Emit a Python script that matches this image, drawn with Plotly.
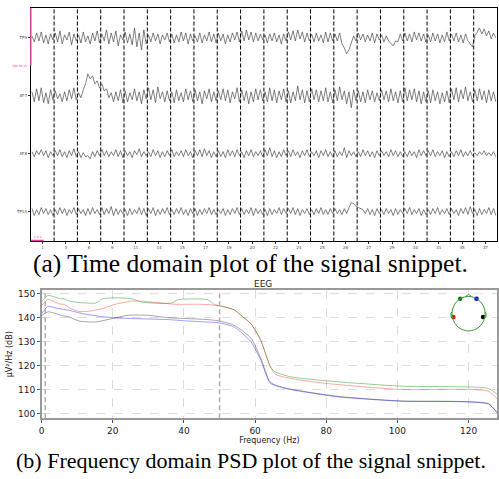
import numpy as np
import plotly.graph_objects as go

# ---------------- data: time-domain panel ----------------
channels = ["TP9", "AF7", "AF8", "TP10"]
epoch_labels = ["1", "3", "6", "9", "11", "14", "15", "17", "19", "20",
                "22", "24", "25", "26", "27", "29", "30", "31", "35", "37"]
samples_per_epoch = 10

tp9 = [2,-4,5,-3,6,-5,3,-6,4,-2, 5,-4,7,-6,3,-2,6,-7,4,-3, 3,-5,6,-4,2,-6,5,-3,7,-5,
       4,-3,8,-6,5,-4,7,-8,3,-2, 6,-5,4,-7,10,-9,5,-12,8,-6, 3,-4,5,-3,4,-6,3,-2,5,-4,
       4,-5,3,-4,6,-3,5,-6,4,-3, 2,-4,5,-5,3,-3,6,-4,4,-5, 5,-3,4,-6,3,-4,5,-2,6,-4,
       7,-3,8,-2,6,-4,5,-3,4,-2, 3,-5,4,-3,5,-4,3,-6,4,-3, 6,-2,7,-3,8,-1,6,-4,5,-3,
       4,-4,5,-3,3,-5,6,-4,5,-3, 4,-3,5,-6,-10,-16,-12,-6,2,-3, 5,-2,4,-4,3,-3,5,-5,4,-2,
       3,-4,2,-3,-5,-8,-3,-4,4,-3, 5,-3,4,-4,6,-2,5,-3,4,-4, 3,-4,5,-3,4,-5,3,-4,6,-3,
       4,-3,5,-4,3,-5,4,-3,-6,-9, 2,6,10,4,9,2,7,-1,5,0]
af7 = [4,-6,7,-5,8,-7,3,-8,6,-4, 5,-3,2,-6,4,-5,6,-3,8,-4, 3,-2,6,12,22,17,20,12,15,8,
       12,5,7,-2,3,-6,4,-5,6,-7, 5,-6,3,-4,7,-5,4,-8,6,-3, 8,-4,6,-7,9,-3,4,-6,5,-5,
       4,-7,6,-5,3,-6,7,-4,5,-6, 6,-5,4,-8,5,-3,7,-6,4,-5, 5,-4,7,-5,6,-7,4,-3,8,-6,
       6,-5,5,-8,4,-6,7,-4,6,-5, 4,-6,8,-5,6,-7,5,-4,7,-6, 5,-7,4,-5,10,-4,6,-7,5,-6,
       7,-4,6,-6,5,-5,8,-6,4,-7, 6,-5,9,-4,5,-8,4,-12,6,-5, 5,-6,4,-7,6,-4,5,-6,3,-5,
       6,-4,5,-6,7,-5,4,-7,5,-6, 8,-5,6,-4,7,-6,5,-8,4,-6, 5,-7,6,-5,4,-8,3,-6,5,-7,
       7,-4,8,-6,6,-3,9,-5,4,-6, 6,-5,7,-4,5,-7,6,-5,4,-6]
af8 = [2,-3,3,-1,4,-2,3,-4,2,-2, 3,-2,4,-3,2,-4,3,-2,5,-3, 2,-4,1,-3,-2,-5,2,-3,3,-2,
       4,-2,3,-3,2,-2,4,-3,3,-4, 3,-2,2,-4,3,-1,5,-3,2,-2, 2,-3,4,-2,3,-4,2,-3,3,-2,
       4,-3,2,-2,3,-3,4,-2,2,-4, 3,-2,4,-3,5,-2,3,-4,2,-3, 3,-3,2,-4,4,-2,3,-3,4,-2,
       2,-4,3,-2,4,-3,2,-2,3,-3, 4,-2,6,-3,3,-4,2,-3,4,-2, 3,-3,4,-2,2,-4,3,-2,4,-3,
       2,-2,3,-4,3,-2,4,-3,2,-3, 3,-3,2,-2,6,-4,3,-2,2,-3, 2,-3,4,-2,3,-3,2,-4,3,-2,
       3,-2,2,-3,4,-2,3,-3,2,-3, 2,-3,3,-2,2,-4,4,-2,3,-2, 3,-2,4,-3,2,-2,3,-4,2,-3,
       2,-3,3,-2,4,-3,2,-2,3,-2, 1,-2,2,-1,3,-2,1,-2,2,-3]
tp10 = [3,-4,2,-3,4,-2,3,-3,2,-4, 2,-3,4,-2,3,-4,2,-2,4,-3, 3,-2,2,-4,3,-3,4,-2,2,-3,
        4,-3,3,-2,5,-4,3,-3,2,-2, 2,-4,3,-3,2,-2,4,-3,3,-4, 3,-2,4,-4,2,-3,3,-2,4,-3,
        2,-3,3,-2,4,-3,2,-4,3,-2, 3,-4,2,-3,3,-2,4,-3,2,-3, 2,-2,3,-4,2,-3,3,-2,4,-3,
        3,-3,2,-2,4,-4,3,-2,2,-3, 2,-4,3,-3,2,-2,4,-3,3,-2, 3,-2,4,-3,3,-4,2,-2,3,-3,
        2,-3,3,-2,4,-3,2,-3,3,-2, 3,-2,2,-3,3,-2,4,9,8,5, 4,3,2,-2,3,-3,2,-4,3,-2,
        2,-3,3,-2,2,-4,3,-3,2,-2, 3,-2,4,-3,2,-2,3,-4,2,-3, 2,-3,3,-2,4,-3,2,-2,3,-3,
        3,-2,2,-4,3,-2,4,-3,5,-2, 2,-4,3,-3,2,-2,4,-3,3,-4]
signals = [tp9, af7, af8, tp10]
channel_spacing = 58

# ---------------- data: PSD panel ----------------
psd_series = {
    "AF7": dict(color="rgba(0,140,0,0.42)",
                f=[0, 1.7, 3.1, 5.4, 6.3, 7.7, 10.5, 15.1, 16.1, 17.0, 20.7, 25.3, 28.1, 36.5, 38.3,
                   46.7, 48.6, 50, 54.1, 56, 58.8, 61.6, 64.3, 65.7, 69.9, 80, 100.6, 125.6, 128],
                db=[146.5, 149.3, 148.9, 147.9, 147.9, 147.0, 146.3, 146.1, 146.8, 147.9, 148.3, 147.9,
                    146.5, 146.1, 147.5, 147.5, 145.4, 145.0, 143.3, 141.0, 137.5, 130.5, 119.4, 117.3,
                    115.3, 113.6, 111.4, 110.4, 108.0]),
    "TP9": dict(color="rgba(255,0,0,0.35)",
                f=[0, 1.7, 3.1, 4.9, 6.3, 7.7, 10.5, 13.3, 17.0, 20.7, 25.3, 28.1, 33.7, 37.4, 44.8,
                   50, 54.1, 56, 58.8, 61.6, 64.3, 65.7, 69.9, 80, 100.6, 125.6, 128],
                db=[145.1, 147.6, 147.0, 145.8, 145.5, 144.2, 142.6, 142.7, 143.75, 145.6, 146.9, 146.9,
                    146.1, 145.6, 145.6, 145.0, 143.3, 141.0, 137.5, 130.5, 119.4, 116.3, 114.6, 112.5,
                    110.0, 109.3, 106.0]),
    "TP10": dict(color="rgba(0,0,0,0.35)",
                 f=[0, 1.7, 3.1, 5.4, 7.7, 10.5, 15.1, 19.8, 24.4, 30.0, 35.5, 41.1, 46.7, 50, 54.1,
                    58.8, 61.6, 64.3, 68.5, 83.3, 100.6, 125.6, 128],
                 db=[141.0, 142.4, 142.1, 141.0, 140.3, 138.6, 138.2, 139.6, 141.0, 141.0, 140.0, 139.6,
                     139.2, 138.6, 136.8, 131.5, 123.0, 113.0, 110.6, 107.1, 105.2, 104.0, 100.3]),
    "AF8": dict(color="rgba(0,0,255,0.38)",
                f=[0, 1.7, 3.1, 4.9, 7.7, 11.4, 16.1, 20.7, 26.3, 35.5, 40.2, 44.8, 50, 54.1, 58.8,
                   61.6, 64.3, 68.5, 83.3, 100.6, 125.6, 128],
                db=[141.7, 144.7, 144.4, 143.75, 143.1, 141.7, 140.6, 139.9, 139.6, 139.2, 138.7, 138.3,
                    137.8, 136.1, 130.0, 122.2, 112.6, 110.4, 106.9, 105.1, 103.9, 100.2]),
}
sensor_names = ["TP9", "AF7", "AF8", "TP10"]
sensor_x = [-0.92, -0.51, 0.48, 0.88]
sensor_y = [-0.2, 0.87, 0.87, -0.2]
sensor_colors = ["red", "green", "blue", "black"]
band_lines_hz = [1, 50]

W, H = 499, 479
def px(x): return x / W
def py(y): return 1 - y / H

fig = go.Figure()

# ---------------- top panel ----------------
n = len(tp9)
t = np.arange(n) / samples_per_epoch + 0.5 / samples_per_epoch
for i, (name, sig) in enumerate(zip(channels, signals)):
    y = -i * channel_spacing + np.array(sig, dtype=float)
    fig.add_trace(go.Scatter(x=t, y=y, mode="lines", line=dict(color="#4a4a4a", width=0.7),
                             xaxis="x", yaxis="y", showlegend=False, hoverinfo="skip"))

for k in range(1, len(epoch_labels)):
    fig.add_shape(type="line", xref="x", yref="y domain", x0=k, x1=k, y0=0, y1=1,
                  line=dict(color="black", width=1, dash="4px,2px"))

# scale bars (pink)
fig.add_shape(type="line", xref="paper", yref="paper", x0=px(28), x1=px(28), y0=py(7), y1=py(65),
              line=dict(color="#e040a0", width=1.5))
fig.add_shape(type="line", xref="paper", yref="paper", x0=px(28), x1=px(41), y0=py(240), y1=py(240),
              line=dict(color="#e040a0", width=1.5))
fig.add_annotation(x=px(27), y=py(65), xref="paper", yref="paper", text="100.00 µV", showarrow=False,
                   xanchor="right", yanchor="middle", font=dict(size=3, color="#e040a0"))
fig.add_annotation(x=px(29), y=py(236), xref="paper", yref="paper", text="1.0 s", showarrow=False,
                   xanchor="left", yanchor="middle", font=dict(size=3, color="#e040a0"))

# ---------------- bottom panel ----------------
for name, s in psd_series.items():
    fig.add_trace(go.Scatter(x=s["f"], y=s["db"], mode="lines", name=name,
                             line=dict(color=s["color"], width=1.0, shape="spline", smoothing=0.6),
                             xaxis="x2", yaxis="y2", showlegend=False, hoverinfo="skip"))
for f in band_lines_hz:
    fig.add_shape(type="line", xref="x2", yref="y2 domain", x0=f, x1=f, y0=0, y1=1,
                  line=dict(color="#b0b0b0", width=1.5, dash="5px,3px"))

# inset head
fig.add_shape(type="circle", xref="x3", yref="y3", x0=-1, x1=1, y0=-1, y1=1,
              line=dict(color="#3a9a3a", width=1))
fig.add_shape(type="path", xref="x3", yref="y3", path="M -0.18 0.98 L 0 1.12 L 0.18 0.98",
              line=dict(color="#3a9a3a", width=1))
fig.add_shape(type="path", xref="x3", yref="y3", path="M -0.99 0.1 L -1.06 0.05 L -1.06 -0.2 L -0.99 -0.25",
              line=dict(color="#3a9a3a", width=1))
fig.add_shape(type="path", xref="x3", yref="y3", path="M 0.99 0.1 L 1.06 0.05 L 1.06 -0.2 L 0.99 -0.25",
              line=dict(color="#3a9a3a", width=1))
fig.add_trace(go.Scatter(x=sensor_x, y=sensor_y, mode="markers", text=sensor_names,
                         marker=dict(color=sensor_colors, size=4.5),
                         xaxis="x3", yaxis="y3", showlegend=False, hoverinfo="skip"))

fig.add_annotation(x=px(262), y=py(284), xref="paper", yref="paper", text="EEG", showarrow=False,
                   yanchor="middle", font=dict(size=9, color="#222", family="DejaVu Sans"))
fig.add_annotation(x=px(250), y=py(263), xref="paper", yref="paper",
                   text="(a) Time domain plot of the signal snippet.", showarrow=False,
                   xanchor="center", yanchor="middle",
                   font=dict(size=25.5, color="black", family="Liberation Serif"))
fig.add_annotation(x=px(250), y=py(460), xref="paper", yref="paper",
                   text="(b) Frequency domain PSD plot of the signal snippet.", showarrow=False,
                   xanchor="center", yanchor="middle",
                   font=dict(size=22, color="black", family="Liberation Serif"))

fig.update_layout(
    width=W, height=H, margin=dict(l=0, r=0, t=0, b=0),
    paper_bgcolor="white", plot_bgcolor="white",
    font=dict(family="DejaVu Sans", color="#222"),
    xaxis=dict(domain=[px(28), px(498)], range=[0, len(epoch_labels)],
               tickvals=[k + 0.5 for k in range(len(epoch_labels))], ticktext=epoch_labels,
               tickfont=dict(size=4, color="#444"), ticks="outside", ticklen=2, tickcolor="#333",
               showgrid=False, zeroline=False, showline=True, linecolor="black", linewidth=1, mirror=True),
    yaxis=dict(domain=[py(241), py(7)], range=[-204, 30],
               tickvals=[-i * channel_spacing for i in range(len(channels))], ticktext=channels,
               tickfont=dict(size=4, color="#444"), ticks="outside", ticklen=2, tickcolor="#333",
               showgrid=False, zeroline=False, showline=True, linecolor="black", linewidth=1, mirror=True),
    xaxis2=dict(domain=[px(39), px(498)], range=[0, 128], anchor="y2",
                tickvals=[0, 20, 40, 60, 80, 100, 120], tickfont=dict(size=9),
                ticks="outside", ticklen=3, tickcolor="#555",
                showgrid=True, gridcolor="#dcdcdc", griddash="dash", gridwidth=0.8,
                zeroline=False, showline=True, linecolor="#999", linewidth=1.5, mirror=True,
                title=dict(text="Frequency (Hz)", font=dict(size=8), standoff=3)),
    yaxis2=dict(domain=[py(418), py(290)], range=[98.0, 151.4], anchor="x2",
                tickvals=[100, 110, 120, 130, 140, 150], tickfont=dict(size=9),
                ticks="outside", ticklen=3, tickcolor="#555",
                showgrid=True, gridcolor="#dcdcdc", griddash="dash", gridwidth=0.8,
                zeroline=False, showline=True, linecolor="#999", linewidth=1.5, mirror=True,
                title=dict(text="µV²/Hz (dB)", font=dict(size=8), standoff=4)),
    xaxis3=dict(domain=[px(449.3), px(489.3)], range=[-1.2, 1.2], anchor="y3",
                visible=False, fixedrange=True),
    yaxis3=dict(domain=[py(333.3), py(293.3)], range=[-1.156, 1.156], anchor="x3",
                visible=False, fixedrange=True),
)

fig.write_html("out.html")
